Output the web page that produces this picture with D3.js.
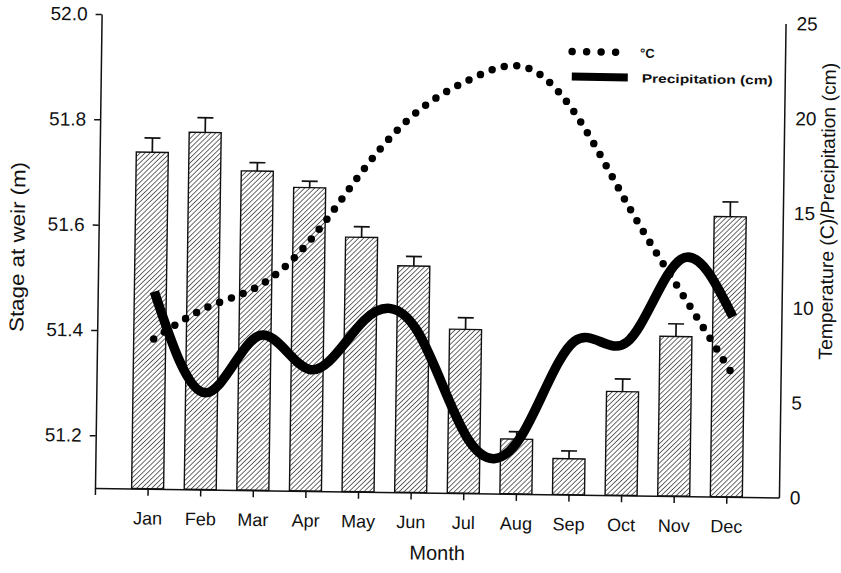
<!DOCTYPE html>
<html>
<head>
<meta charset="utf-8">
<script src="https://cdn.jsdelivr.net/npm/d3@7"></script>
<style>
  body { margin: 0; background: #fff; }
  svg text { font-family: "Liberation Sans", Arial, Helvetica, sans-serif; fill: #111; }
</style>
</head>
<body>
<svg id="chart" width="841" height="573"></svg>
<script>
// Monthly stage at the weir (m) with its error, plus climate series
const months = ["Jan", "Feb", "Mar", "Apr", "May", "Jun", "Jul", "Aug", "Sep", "Oct", "Nov", "Dec"];
const stage = [51.739, 51.778, 51.706, 51.676, 51.583, 51.530, 51.411, 51.204, 51.168, 51.297, 51.403, 51.632];
const stageErr = [0.027, 0.028, 0.016, 0.012, 0.020, 0.018, 0.022, 0.014, 0.015, 0.024, 0.024, 0.028];
const temperature = [7.9, 9.6, 10.8, 13.4, 17.2, 20.2, 21.9, 22.5, 19.9, 15.2, 10.8, 6.5];
const precipitation = [10.4, 5.1, 8.15, 6.4, 9.05, 8.55, 2.85, 3.0, 8.1, 8.1, 12.5, 9.5];
const stageTicks = [51.2, 51.4, 51.6, 51.8, 52.0];
const rightTicks = [0, 5, 10, 15, 20, 25];

const svg = d3.select("#chart");
const plotLeft = 95, plotRight = 779, plotTop = 14, plotBottom = 488;

// Hatch fill for the stage bars
const defs = svg.append("defs");
defs.append("pattern")
  .attr("id", "hatch")
  .attr("patternUnits", "userSpaceOnUse")
  .attr("width", 3.5).attr("height", 3.5)
  .attr("patternTransform", "rotate(45)")
  .append("line")
  .attr("x1", 0).attr("y1", 0).attr("x2", 0).attr("y2", 3.5)
  .attr("stroke", "#111").attr("stroke-width", 1.25);

// Whole figure sits with a slight clockwise tilt
const g = svg.append("g").attr("transform", `rotate(0.8, ${plotLeft}, ${plotBottom})`);

const x = d3.scaleLinear().domain([0, 13]).range([plotLeft, plotRight]);
const yL = d3.scaleLinear().domain([51.1, 52.0]).range([plotBottom, plotTop]);
const yR = d3.scaleLinear().domain([0, 25]).range([plotBottom, plotTop]);

const barW = 32;

// Bars
g.append("g").selectAll("rect")
  .data(stage)
  .join("rect")
  .attr("x", (d, i) => x(i + 1) - barW / 2)
  .attr("y", d => yL(d))
  .attr("width", barW)
  .attr("height", d => yL(51.1) - yL(d))
  .attr("fill", "url(#hatch)")
  .attr("stroke", "#111")
  .attr("stroke-width", 1.4);

// Error bars (upper half only)
const eb = g.append("g").attr("stroke", "#111").attr("stroke-width", 1.7);
eb.selectAll("line.v")
  .data(stage)
  .join("line")
  .attr("class", "v")
  .attr("x1", (d, i) => x(i + 1)).attr("x2", (d, i) => x(i + 1))
  .attr("y1", d => yL(d))
  .attr("y2", (d, i) => yL(d + stageErr[i]));
eb.selectAll("line.c")
  .data(stage)
  .join("line")
  .attr("class", "c")
  .attr("x1", (d, i) => x(i + 1) - 8).attr("x2", (d, i) => x(i + 1) + 8)
  .attr("y1", (d, i) => yL(d + stageErr[i]))
  .attr("y2", (d, i) => yL(d + stageErr[i]));

// Climate curves on the right-hand scale
const lineX = (d, i) => x(i + 1) + 4;
const tempLine = d3.line().x(lineX).y(d => yR(d)).curve(d3.curveNatural);
const precLine = d3.line().x(lineX).y(d => yR(d)).curve(d3.curveNatural);

g.append("path")
  .datum(precipitation)
  .attr("d", precLine)
  .attr("fill", "none")
  .attr("stroke", "#000")
  .attr("stroke-width", 9.5);

g.append("path")
  .datum(temperature)
  .attr("d", tempLine)
  .attr("fill", "none")
  .attr("stroke", "#000")
  .attr("stroke-width", 7.5)
  .attr("stroke-linecap", "round")
  .attr("stroke-dasharray", "0 12.6");

// Axes
const axisStyle = sel => {
  sel.selectAll("path.domain").attr("stroke", "#111").attr("stroke-width", 1.5);
  sel.selectAll(".tick line").attr("stroke", "#111").attr("stroke-width", 1.5);
  sel.selectAll("text").attr("fill", "#111")
    .style("font-family", "'Liberation Sans', Arial, sans-serif");
};

g.append("g")
  .attr("transform", `translate(${plotLeft},0)`)
  .call(d3.axisLeft(yL).tickValues(stageTicks).tickFormat(d3.format(".1f"))
    .tickSize(6).tickSizeOuter(0).tickPadding(8))
  .call(axisStyle)
  .selectAll("text").attr("font-size", 19);

g.append("g")
  .attr("transform", `translate(${plotRight},0)`)
  .call(d3.axisRight(yR).tickValues(rightTicks).tickSize(0).tickSizeOuter(0).tickPadding(11))
  .call(axisStyle)
  .selectAll("text").attr("font-size", 19);

g.append("g")
  .attr("transform", `translate(0,${plotBottom})`)
  .call(d3.axisBottom(x).tickValues(d3.range(0, 13))
    .tickFormat(i => i >= 1 ? months[i - 1] : "")
    .tickSize(7).tickSizeOuter(0).tickPadding(16))
  .call(axisStyle)
  .selectAll("text").attr("font-size", 18);

// Axis titles
g.append("text")
  .attr("transform", "translate(21,248) rotate(-90)")
  .attr("text-anchor", "middle")
  .attr("font-size", 20)
  .attr("textLength", 170).attr("lengthAdjust", "spacingAndGlyphs")
  .text("Stage at weir (m)");

g.append("text")
  .attr("transform", "translate(830,201) rotate(-90)")
  .attr("text-anchor", "middle")
  .attr("font-size", 19)
  .attr("textLength", 297).attr("lengthAdjust", "spacingAndGlyphs")
  .text("Temperature (C)/Precipitation (cm)");

g.append("text")
  .attr("x", 438).attr("y", 555)
  .attr("text-anchor", "middle")
  .attr("font-size", 20)
  .text("Month");

// Legend
const lg = g.append("g");
lg.append("line")
  .attr("x1", 566).attr("x2", 624).attr("y1", 45).attr("y2", 45)
  .attr("stroke", "#000").attr("stroke-width", 7.5)
  .attr("stroke-linecap", "round").attr("stroke-dasharray", "0 14.5");
lg.append("text")
  .attr("x", 634).attr("y", 50)
  .attr("font-size", 13).attr("font-weight", "bold")
  .text("°C");
lg.append("line")
  .attr("x1", 566).attr("x2", 622).attr("y1", 70).attr("y2", 70)
  .attr("stroke", "#000").attr("stroke-width", 8);
lg.append("text")
  .attr("x", 636).attr("y", 75)
  .attr("font-size", 12).attr("font-weight", "bold")
  .attr("textLength", 131).attr("lengthAdjust", "spacingAndGlyphs")
  .text("Precipitation (cm)");
</script>
</body>
</html>
